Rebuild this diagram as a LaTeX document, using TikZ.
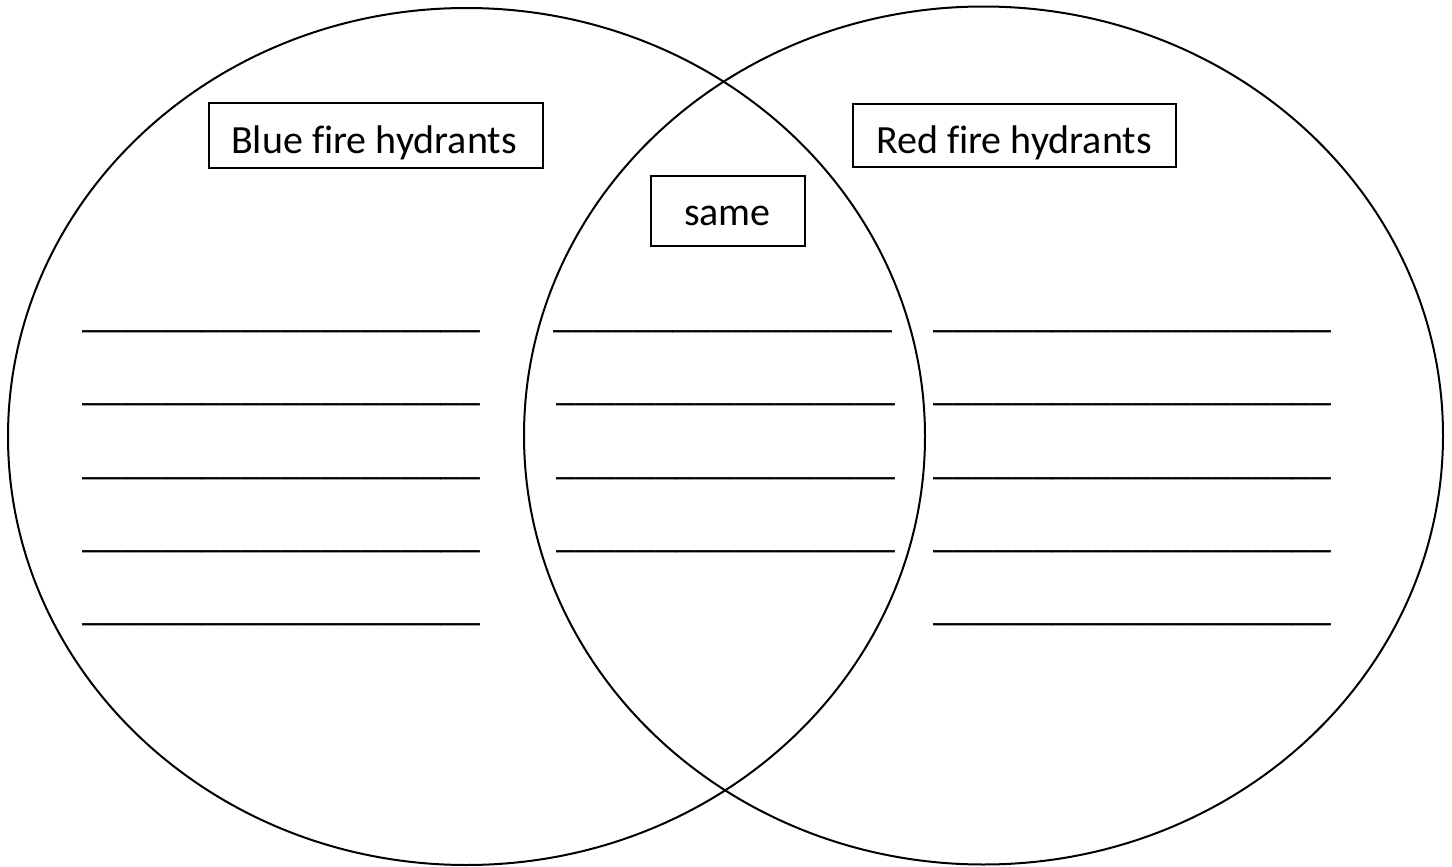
\documentclass[tikz,border=0pt]{standalone}
\usepackage{fontspec}
\setmainfont{Carlito}[Ligatures=NoCommon]
\newcommand{\ulong}{\_\_\_\_\_\_\_\_\_\_\_\_\_\_\_\_\_\_\_\_}
\newcommand{\ushort}{\_\_\_\_\_\_\_\_\_\_\_\_\_\_\_\_\_}
\begin{document}
\begin{tikzpicture}[x=0.5pt,y=-0.5pt,
  ring/.style={draw=black,line width=1pt},
  labelbox/.style={draw=black,line width=0.75pt,rectangle,inner sep=0pt},
  lbl/.style={anchor=base,inner sep=0pt,font=\fontsize{20}{24}\selectfont},
  blank/.style={anchor=base west,inner sep=0pt,font=\fontsize{20}{24}\selectfont}]
\useasboundingbox (0,0) rectangle (1452,867);
\draw[ring] (466.5,436.5) ellipse [x radius=229.25pt, y radius=214.25pt];
\draw[ring] (983.5,435.5) ellipse [x radius=229.75pt, y radius=214.5pt];
% boxes
\node[labelbox,minimum width=167pt,minimum height=32.5pt] (bluebox) at (376,135.5) {};
\node[lbl] (bluetext) at (374,153) {Blue fire hydrants};
\node[labelbox,minimum width=161.5pt,minimum height=31.5pt] (redbox) at (1014.5,135.5) {};
\node[lbl] (redtext) at (1014,153) {Red fire hydrants};
\node[labelbox,minimum width=77pt,minimum height=35pt] (samebox) at (728,211) {};
\node[lbl] (sametext) at (727.5,225) {same};
% blank lines, left
\node[blank] (La) at (82,327) {\ulong};
\node[blank] (Lb) at (82,400) {\ulong};
\node[blank] (Lc) at (82,474) {\ulong};
\node[blank] (Ld) at (82,547) {\ulong};
\node[blank] (Le) at (82,620) {\ulong};
% blank lines, middle
\node[blank] (Ma) at (553,327) {\ushort};
\node[blank] (Mb) at (556,400) {\ushort};
\node[blank] (Mc) at (556,474) {\ushort};
\node[blank] (Md) at (556,547) {\ushort};
% blank lines, right
\node[blank] (Ra) at (933,327) {\ulong};
\node[blank] (Rb) at (933,400) {\ulong};
\node[blank] (Rc) at (933,474) {\ulong};
\node[blank] (Rd) at (933,547) {\ulong};
\node[blank] (Re) at (933,620) {\ulong};
\end{tikzpicture}
\end{document}
